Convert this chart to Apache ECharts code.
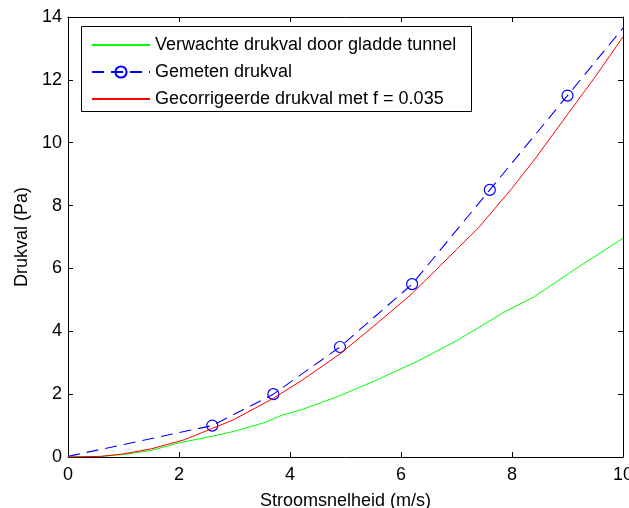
<!DOCTYPE html>
<html>
<head>
<meta charset="utf-8">
<script src="https://cdn.jsdelivr.net/npm/echarts@6/dist/echarts.min.js"></script>
<style>
  html, body { margin: 0; padding: 0; background: #fff; }
  #chart { width: 629px; height: 508px; }
</style>
</head>
<body>
<div id="chart"></div>
<script>
// Pressure drop over flow speed: expected (smooth tunnel), measured, corrected (f = 0.035)
const seriesNames = [
  'Verwachte drukval door gladde tunnel',
  'Gemeten drukval',
  'Gecorrigeerde drukval met f = 0.035'
];

// expected pressure drop for a smooth tunnel [speed m/s, Pa]
const expectedDrop = [
  [0, 0], [0.6, 0.02], [1, 0.08], [1.5, 0.21], [2, 0.45], [2.6, 0.66], [3, 0.82],
  [3.55, 1.1], [3.85, 1.33], [4.2, 1.5], [4.9, 1.95], [5.6, 2.48], [6.3, 3.05],
  [7, 3.7], [7.4, 4.12], [7.85, 4.6], [8.4, 5.1], [9.2, 6.05], [10, 6.96]
];

// measured pressure drop; the end points carry no marker
const measuredX = [0, 2.6, 3.7, 4.9, 6.2, 7.6, 9, 10];
const measuredY = [0.02, 1, 2, 3.5, 5.5, 8.5, 11.5, 13.65];
const measuredMarked = [false, true, true, true, true, true, true, false];

// corrected pressure drop with friction factor f = 0.035
const correctedDrop = [
  [0, 0], [0.6, 0.02], [1, 0.1], [1.5, 0.26], [2.1, 0.55], [2.6, 0.91], [3, 1.2],
  [3.7, 1.87], [4.2, 2.42], [4.9, 3.28], [5.5, 4.15], [6.2, 5.2], [6.64, 5.97],
  [7, 6.6], [7.4, 7.3], [8, 8.55], [8.4, 9.45], [9, 10.9], [9.5, 12.1], [10, 13.37]
];

const xTicks = { min: 0, max: 10, interval: 2 };
const yTicks = { min: 0, max: 14, interval: 2 };

const FONT = '"Liberation Sans", Arial, Helvetica, sans-serif';

const measuredData = measuredX.map((x, i) => measuredMarked[i]
  ? { value: [x, measuredY[i]] }
  : { value: [x, measuredY[i]], symbol: 'none' });

const chart = echarts.init(document.getElementById('chart'), null, { renderer: 'canvas' });

const axisCommon = {
  type: 'value',
  axisLine: { show: true, onZero: false, lineStyle: { color: '#000', width: 1 } },
  axisTick: { show: true, inside: true, length: 5, lineStyle: { color: '#000', width: 1 } },
  splitLine: { show: false }
};

const noMarker = { color: 'rgba(0,0,0,0)', borderWidth: 0 };

chart.setOption({
  animation: false,
  backgroundColor: '#fff',
  grid: { left: 68, right: 6, top: 17, bottom: 51, containLabel: false, outerBoundsMode: 'none' },
  xAxis: [
    Object.assign({}, axisCommon, {
      min: xTicks.min, max: xTicks.max, interval: xTicks.interval,
      position: 'bottom',
      axisLabel: { color: '#000', fontFamily: FONT, fontSize: 18, margin: 9 },
      name: 'Stroomsnelheid (m/s)',
      nameLocation: 'middle',
      nameGap: 35,
      nameTextStyle: { color: '#000', fontFamily: FONT, fontSize: 18 }
    }),
    Object.assign({}, axisCommon, {
      min: xTicks.min, max: xTicks.max, interval: xTicks.interval,
      position: 'top',
      axisLabel: { show: false }
    })
  ],
  yAxis: [
    Object.assign({}, axisCommon, {
      min: yTicks.min, max: yTicks.max, interval: yTicks.interval,
      position: 'left',
      axisLabel: { color: '#000', fontFamily: FONT, fontSize: 18, margin: 6 },
      name: 'Drukval (Pa)',
      nameLocation: 'middle',
      nameGap: 33,
      nameTextStyle: { color: '#000', fontFamily: FONT, fontSize: 18 }
    }),
    Object.assign({}, axisCommon, {
      min: yTicks.min, max: yTicks.max, interval: yTicks.interval,
      position: 'right',
      axisLabel: { show: false }
    })
  ],
  graphic: [{
    type: 'rect',
    z: 1,
    shape: { x: 81.5, y: 26.5, width: 390, height: 85 },
    style: { fill: '#fff', stroke: '#000', lineWidth: 1 }
  }],
  legend: {
    orient: 'vertical',
    left: 91,
    top: 36,
    padding: 0,
    itemWidth: 58,
    itemHeight: 14,
    itemGap: 9,
    z: 5,
    data: seriesNames,
    textStyle: { color: '#000', fontFamily: FONT, fontSize: 18, lineHeight: 18 }
  },
  series: [
    {
      name: seriesNames[0],
      type: 'line',
      data: expectedDrop,
      showSymbol: false,
      symbol: 'none',
      lineStyle: { color: '#00ff00', width: 1 },
      itemStyle: noMarker,
      z: 2
    },
    {
      name: seriesNames[1],
      type: 'line',
      data: measuredData,
      symbol: 'circle',
      symbolSize: 11,
      showAllSymbol: true,
      lineStyle: { color: '#0000ff', width: 1.1, type: [12, 7] },
      itemStyle: { color: 'rgba(0,0,0,0)', borderColor: '#0000ff', borderWidth: 1.2 },
      z: 3
    },
    {
      name: seriesNames[2],
      type: 'line',
      data: correctedDrop,
      showSymbol: false,
      symbol: 'none',
      lineStyle: { color: '#ff0000', width: 1 },
      itemStyle: noMarker,
      z: 4
    }
  ]
});
</script>
</body>
</html>
